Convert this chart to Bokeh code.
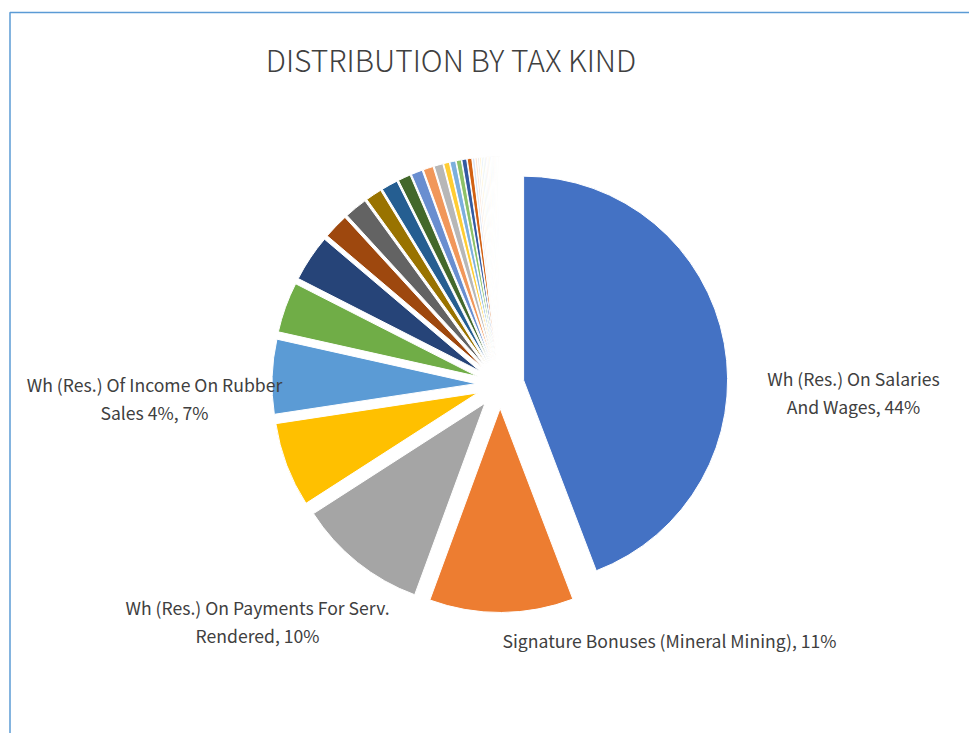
import numpy as np
from bokeh.plotting import figure
from bokeh.models import Range1d, ColumnDataSource, Label
from bokeh.core.properties import value
from bokeh.embed import file_html
from bokeh.resources import INLINE

# ---------------- data ----------------
TITLE = "DISTRIBUTION BY TAX KIND"

tax_kinds = [
    "Wh (Res.) On Salaries And Wages",
    "Signature Bonuses (Mineral Mining)",
    "Wh (Res.) On Payments For Serv. Rendered",
    "Wh (Res.) Of Income On Rubber Sales 4%",
] + [f"Other tax kind {i}" for i in range(5, 42)]

shares = [44.2, 11.4, 10.3, 6.7, 5.9, 4.0, 3.7, 2.0, 1.8, 1.3,
          1.3, 1.0, 0.9, 0.8, 0.7, 0.45, 0.45, 0.4, 0.38, 0.36,
          0.2, 0.17, 0.15, 0.13, 0.12, 0.11, 0.1, 0.1, 0.1, 0.09,
          0.09, 0.08, 0.08, 0.07, 0.07, 0.06, 0.06, 0.05, 0.05, 0.04, 0.04]

slice_colors = ["#4472C4", "#ED7D31", "#A5A5A5", "#FFC000", "#5B9BD5", "#70AD47",
                "#264478", "#9E480E", "#636363", "#997300", "#255E91", "#43682B",
                "#698ED0", "#F1975A", "#B7B7B7", "#FFCD33", "#7CAFDD", "#8CC168",
                "#335AA1", "#D26012",
                "#DAE3F3", "#FBE5D6", "#EDEDED", "#FFF2CC", "#DEEBF7", "#E2F0D9",
                "#DAE3F3", "#FBE5D6", "#EDEDED", "#FFF2CC", "#DEEBF7", "#E2F0D9",
                "#DAE3F3", "#FBE5D6", "#EDEDED", "#FFF2CC", "#DEEBF7", "#E2F0D9",
                "#DAE3F3", "#FBE5D6", "#EDEDED"]

label_texts = ["Wh (Res.) On Salaries\nAnd Wages, 44%",
               "Signature Bonuses (Mineral Mining), 11%",
               "Wh (Res.) On Payments For Serv.\nRendered, 10%",
               "Wh (Res.) Of Income On Rubber\nSales 4%, 7%"]

# ---------------- layout ----------------
W, H = 969, 733


def px(X, Y):
    """page pixel -> plot data coordinate (y up)"""
    return X, H - Y


CX, CY = px(499.5, 384)
R = 204
EXPLODE = 24
label_pos_page = [(853, 392), (669, 640), (257, 621), (154, 398)]

# ---------------- geometry ----------------
s = np.array(shares, dtype=float)
frac = s / s.sum()
cum = np.concatenate([[0.0], np.cumsum(frac)])
t0 = cum[:-1] * 2 * np.pi      # clockwise from 12 o'clock
t1 = cum[1:] * 2 * np.pi
mid = (t0 + t1) / 2

src = ColumnDataSource(dict(
    name=tax_kinds,
    share=shares,
    x=CX + EXPLODE * np.sin(mid),
    y=CY + EXPLODE * np.cos(mid),
    start=np.pi / 2 - t1,
    end=np.pi / 2 - t0,
    color=slice_colors,
))

p = figure(width=W, height=H, output_backend="svg", toolbar_location=None,
           x_range=Range1d(0, W), y_range=Range1d(0, H), min_border=0)
p.axis.visible = False
p.grid.visible = False
p.outline_line_color = None
p.background_fill_color = "white"
p.border_fill_color = "white"

# chart-area frame (top and left edges visible)
fx, fy = px(9.5, 12)
p.line(x=[fx, fx, W + 5], y=[-5, fy, fy], line_color="#5B9BD5", line_width=1.5)

p.wedge(x="x", y="y", radius=R, start_angle="start", end_angle="end",
        direction="anticlock", fill_color="color", line_color="white",
        line_width=1, source=src)

lx, ly = zip(*[px(a, b) for a, b in label_pos_page])
lsrc = ColumnDataSource(dict(x=list(lx), y=list(ly), text=label_texts))
p.text(x="x", y="y", text="text", source=lsrc, text_align="center",
       text_baseline="middle", text_font=value("Noto Sans CJK JP"),
       text_font_size="17.6px", text_color="#404040", text_line_height=1.12)

tx, ty = px(450.5, 58)
p.add_layout(Label(x=tx, y=ty, text=TITLE, text_align="center",
                   text_baseline="middle", text_font="Noto Sans CJK JP Light",
                   text_font_size="30px", text_color="#404040"))

open("out.html", "w").write(file_html(p, INLINE))
